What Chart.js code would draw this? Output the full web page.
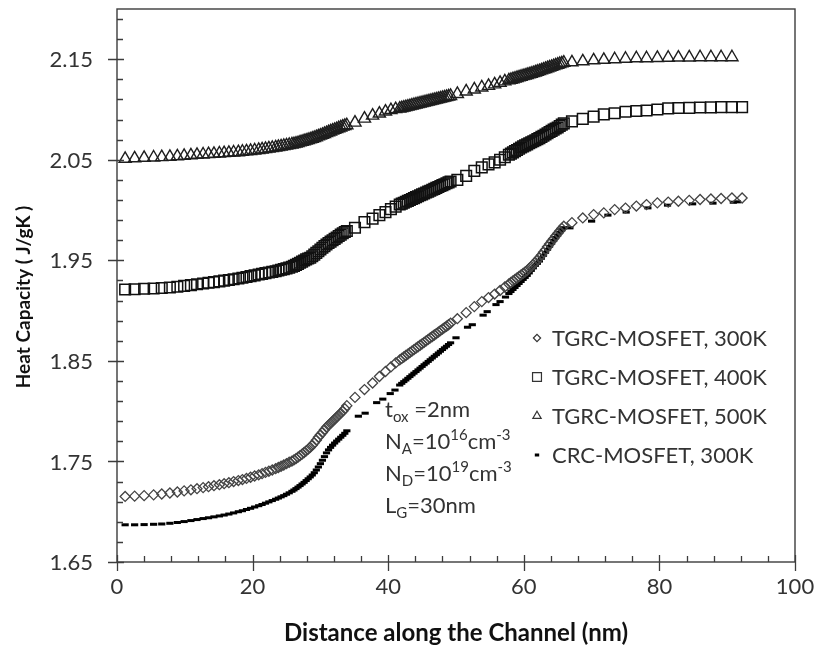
<!DOCTYPE html>
<html>
<head>
<meta charset="utf-8">
<script src="https://cdn.jsdelivr.net/npm/chart.js@4/dist/chart.umd.min.js"></script>
<style>
html,body{margin:0;padding:0;background:#ffffff;}
canvas{display:block;}
</style>
</head>
<body>
<canvas id="c" width="818" height="652"></canvas>
<script>
// ---------------- data ----------------
const xTitle = 'Distance along the Channel (nm)';
const yTitle = 'Heat Capacity ( J/gK )';
const xTickValues = [0, 20, 40, 60, 80, 100];
const yTickValues = [1.65, 1.75, 1.85, 1.95, 2.05, 2.15];
const xMinorStep = 4;
const yMinorStep = 0.02;
const seriesLabels = ['TGRC-MOSFET, 300K', 'TGRC-MOSFET, 400K', 'TGRC-MOSFET, 500K', 'CRC-MOSFET, 300K'];

// positions along the channel (nm) of the TGRC samples
const xTGRC = [
  1.2, 2.6, 4.0, 5.4, 6.6, 7.8, 8.9, 9.9, 10.9, 11.8,
  12.7, 13.5, 14.3, 15.1, 15.8, 16.5, 17.2, 17.9, 18.5, 19.1,
  19.7, 20.3, 20.9, 21.4, 21.9, 22.4, 22.9, 23.4, 23.8, 24.2,
  24.6, 25.0, 25.4, 25.8, 26.1, 26.4, 26.7, 27.0, 27.3, 27.6,
  27.9, 28.2, 28.5, 28.8, 29.1, 29.4, 29.7, 30.0, 30.3, 30.6,
  30.9, 31.2, 31.5, 31.8, 32.1, 32.4, 32.7, 33.0, 33.3, 33.6,
  33.9,
  35.1, 36.5, 37.7, 38.7, 39.6, 40.4, 41.1,
  41.7, 42.0, 42.3, 42.6, 42.9, 43.2, 43.5, 43.8, 44.1, 44.4,
  44.7, 45.0, 45.3, 45.6, 45.9, 46.2, 46.5, 46.8, 47.1, 47.4,
  47.7, 48.0, 48.3, 48.6, 48.9, 49.2,
  50.2, 51.5, 52.7, 53.8, 54.8, 55.7, 56.5, 57.2,
  57.8, 58.1, 58.4, 58.7, 59.0, 59.3, 59.6, 59.9, 60.2, 60.5,
  60.8, 61.1, 61.4, 61.7, 62.0, 62.3, 62.6, 62.9, 63.2, 63.5,
  63.8, 64.1, 64.4, 64.7, 65.0, 65.3, 65.6, 65.9,
  67.1, 68.7, 70.3, 71.8, 73.4, 75.0, 76.6, 78.1, 79.7, 81.3,
  82.8, 84.4, 86.0, 87.6, 89.1, 90.7, 92.2
];

const heatTGRC300K = [
  1.7152, 1.7155, 1.716, 1.7168, 1.7176, 1.7186, 1.7196, 1.7207, 1.7218, 1.7229,
  1.724, 1.7249, 1.7259, 1.7269, 1.7279, 1.7289, 1.73, 1.731, 1.732, 1.7331,
  1.7343, 1.7355, 1.7367, 1.7379, 1.7391, 1.7403, 1.7415, 1.7428, 1.744, 1.7452,
  1.7465, 1.7478, 1.7492, 1.7504, 1.7515, 1.7528, 1.7543, 1.7558, 1.7573, 1.7589,
  1.7606, 1.7623, 1.764, 1.7662, 1.7685, 1.7712, 1.774, 1.7765, 1.7788, 1.7815,
  1.784, 1.786, 1.788, 1.79, 1.792, 1.794, 1.796, 1.798, 1.8, 1.8025,
  1.8055,
  1.8137, 1.8215, 1.828, 1.8345, 1.8395, 1.844, 1.848,
  1.851, 1.8525, 1.8539, 1.8554, 1.8568, 1.8583, 1.8598, 1.8612, 1.8627, 1.8641,
  1.8656, 1.867, 1.8685, 1.87, 1.8714, 1.8729, 1.8743, 1.8758, 1.8772, 1.8787,
  1.8802, 1.8816, 1.8831, 1.8845, 1.886, 1.8875,
  1.892, 1.898, 1.904, 1.909, 1.913, 1.9165, 1.92, 1.9235,
  1.9265, 1.928, 1.9295, 1.931, 1.9325, 1.934, 1.9355, 1.937, 1.9385, 1.94,
  1.942, 1.944, 1.946, 1.948, 1.9505, 1.9526, 1.9552, 1.958, 1.9607, 1.9635,
  1.9662, 1.969, 1.9716, 1.9742, 1.9768, 1.9793, 1.9818, 1.984,
  1.9875, 1.9922, 1.9955, 1.9972, 2.0005, 2.002, 2.004, 2.0055, 2.0072, 2.008,
  2.0088, 2.0097, 2.0105, 2.011, 2.0115, 2.012, 2.012
];

const heatTGRC400K = [
  1.921, 1.9213, 1.9217, 1.922, 1.9225, 1.923, 1.9238, 1.9246, 1.9254, 1.9262,
  1.927, 1.9277, 1.9284, 1.9291, 1.9298, 1.9305, 1.9312, 1.932, 1.9327, 1.9335,
  1.9343, 1.9351, 1.9359, 1.9366, 1.9373, 1.938, 1.9386, 1.9392, 1.9399, 1.9406,
  1.9413, 1.942, 1.9428, 1.9436, 1.9445, 1.9455, 1.9465, 1.9476, 1.9487, 1.9498,
  1.951, 1.9518, 1.9526, 1.9541, 1.9557, 1.9574, 1.9591, 1.9608, 1.9625, 1.9642,
  1.9658, 1.9672, 1.9686, 1.97, 1.9714, 1.9728, 1.9742, 1.9756, 1.977, 1.9782,
  1.9792,
  1.9825, 1.988, 1.9915, 1.995, 1.998, 2.001, 2.0035,
  2.0055, 2.0064, 2.0073, 2.0083, 2.0092, 2.0101, 2.011, 2.0119, 2.0129, 2.0138,
  2.0147, 2.0156, 2.0165, 2.0175, 2.0184, 2.0193, 2.0202, 2.0211, 2.0221, 2.023,
  2.0239, 2.0248, 2.0257, 2.0267, 2.0276, 2.0285,
  2.03, 2.034, 2.039, 2.0425, 2.0455, 2.0475, 2.05, 2.0525,
  2.055, 2.0562, 2.0574, 2.0586, 2.0598, 2.061, 2.0622, 2.0634, 2.0644, 2.0654,
  2.0665, 2.0675, 2.0685, 2.0695, 2.0706, 2.0716, 2.0728, 2.074, 2.0752, 2.0764,
  2.0776, 2.0788, 2.08, 2.0811, 2.0822, 2.0837, 2.085, 2.0862,
  2.0882, 2.0907, 2.093, 2.0952, 2.0963, 2.0978, 2.0985, 2.099, 2.1, 2.1012,
  2.1015, 2.1017, 2.102, 2.1022, 2.1024, 2.1024, 2.1024
];

const heatTGRC500K = [
  2.051, 2.0515, 2.052, 2.0523, 2.0527, 2.053, 2.0535, 2.054, 2.0545, 2.055,
  2.0553, 2.0557, 2.056, 2.0563, 2.0567, 2.057, 2.0573, 2.0576, 2.058, 2.0584,
  2.0588, 2.0593, 2.0598, 2.0603, 2.0608, 2.0613, 2.0618, 2.0623, 2.0628, 2.0633,
  2.0638, 2.0643, 2.0648, 2.0653, 2.0657, 2.0662, 2.0667, 2.0673, 2.0679, 2.0685,
  2.0691, 2.0697, 2.0703, 2.071, 2.0717, 2.0725, 2.0733, 2.0741, 2.0749, 2.0757,
  2.0766, 2.0774, 2.0782, 2.079, 2.0798, 2.0806, 2.0814, 2.0822, 2.083, 2.0837,
  2.0844,
  2.087, 2.091, 2.094, 2.096, 2.098, 2.0995, 2.1005,
  2.101, 2.1015, 2.102, 2.1025, 2.103, 2.1035, 2.104, 2.1045, 2.105, 2.1055,
  2.106, 2.1065, 2.107, 2.1075, 2.108, 2.1085, 2.109, 2.1095, 2.11, 2.1105,
  2.111, 2.1115, 2.112, 2.1125, 2.113, 2.1135,
  2.1155, 2.118, 2.12, 2.122, 2.1235, 2.125, 2.1265, 2.128,
  2.129, 2.1296, 2.1302, 2.1308, 2.1314, 2.132, 2.1326, 2.1332, 2.1338, 2.1344,
  2.135, 2.1356, 2.1362, 2.1369, 2.1376, 2.1383, 2.139, 2.1397, 2.1404, 2.1411,
  2.1418, 2.1425, 2.1432, 2.1439, 2.1446, 2.1453, 2.146, 2.1466,
  2.147, 2.148, 2.149, 2.1495, 2.15, 2.1505, 2.151, 2.151, 2.1513, 2.1515,
  2.1517, 2.1518, 2.152, 2.152, 2.152, 2.152, null
];

// positions along the channel (nm) of the CRC samples
const xCRC = [
  1.2, 2.6, 4.0, 5.4, 6.6, 7.8, 8.9, 9.9, 10.9, 11.8,
  12.7, 13.5, 14.3, 15.1, 15.8, 16.5, 17.2, 17.9, 18.5, 19.1,
  19.7, 20.3, 20.9, 21.4, 21.9, 22.4, 22.9, 23.4, 23.8, 24.2,
  24.6, 25.0, 25.4, 25.8, 26.1, 26.4, 26.7, 27.0, 27.3, 27.6,
  27.9, 28.2, 28.5, 28.8, 29.1, 29.4, 29.7, 30.0, 30.3, 30.6,
  30.9, 31.2, 31.5, 31.8, 32.1, 32.4, 32.7, 33.0, 33.3, 33.6,
  33.9,
  35.6, 36.6, 38.3, 39.2, 40.3, 41.0,
  41.7, 42.0, 42.3, 42.6, 42.9, 43.2, 43.5, 43.8, 44.1, 44.4,
  44.7, 45.0, 45.3, 45.6, 45.9, 46.2, 46.5, 46.8, 47.1, 47.4,
  47.7, 48.0, 48.3, 48.6, 48.9, 49.2,
  50.0, 51.7, 52.4, 54.0, 54.6, 55.9, 56.5, 57.3,
  57.8, 58.1, 58.4, 58.7, 59.0, 59.3, 59.6, 59.9, 60.2, 60.5,
  60.8, 61.1, 61.4, 61.7, 62.0, 62.3, 62.6, 62.9, 63.2, 63.5,
  63.8, 64.1, 64.4, 64.7, 65.0, 65.3, 65.6, 65.9,
  66.8, 70.0, 72.4, 75.1, 78.3, 81.2, 84.9, 87.9, 90.9, 91.5
];

const heatCRC300K = [
  1.687, 1.687, 1.6872, 1.6875, 1.6878, 1.6885, 1.6893, 1.6902, 1.6912, 1.6922,
  1.6932, 1.694, 1.6949, 1.6958, 1.6967, 1.6977, 1.6988, 1.7, 1.701, 1.7022,
  1.7034, 1.7047, 1.706, 1.7072, 1.7085, 1.7098, 1.7111, 1.7124, 1.7136, 1.7148,
  1.716, 1.7174, 1.7188, 1.7203, 1.7216, 1.723, 1.7245, 1.726, 1.7276, 1.7292,
  1.731, 1.7328, 1.7346, 1.7365, 1.7388, 1.7415, 1.7445, 1.7478, 1.7512, 1.7548,
  1.7585, 1.7615, 1.764, 1.7662, 1.7683, 1.7703, 1.7722, 1.7741, 1.776, 1.778,
  1.7805,
  1.795, 1.798, 1.8085, 1.812, 1.8175, 1.821,
  1.826, 1.8277, 1.8294, 1.831, 1.8327, 1.8344, 1.8361, 1.8378, 1.8394, 1.8411,
  1.8428, 1.8445, 1.8462, 1.8478, 1.8495, 1.8512, 1.8529, 1.8546, 1.8562, 1.8579,
  1.8596, 1.8613, 1.863, 1.8646, 1.8663, 1.868,
  1.873, 1.8835, 1.886, 1.8955, 1.899, 1.906, 1.909, 1.9135,
  1.917, 1.919, 1.921, 1.923, 1.925, 1.927, 1.929, 1.931, 1.933, 1.935,
  1.9375, 1.94, 1.9425, 1.945, 1.947, 1.9493, 1.9521, 1.955, 1.958, 1.961,
  1.964, 1.967, 1.97, 1.9727, 1.9753, 1.978, 1.9805, 1.9825,
  1.9823, 1.989, 1.995, 1.998, 2.0022, 2.0049, 2.0062, 2.0069, 2.0078, 2.0082
];

// parameter box text: [text, 'n' normal | 'sub' | 'sup']
const paramLines = [
  [['t', 'n'], ['ox', 'sub'], [' =2nm', 'n']],
  [['N', 'n'], ['A', 'sub'], ['=10', 'n'], ['16', 'sup'], ['cm', 'n'], ['-3', 'sup']],
  [['N', 'n'], ['D', 'sub'], ['=10', 'n'], ['19', 'sup'], ['cm', 'n'], ['-3', 'sup']],
  [['L', 'n'], ['G', 'sub'], ['=30nm', 'n']]
];

// ---------------- chart ----------------
function toPoints(xs, ys) {
  const out = [];
  for (let i = 0; i < xs.length; i++) {
    if (ys[i] !== null && ys[i] !== undefined) out.push({ x: xs[i], y: ys[i] });
  }
  return out;
}

const FONT = 'Lato';
const TEXT = '#333333';
const AXIS = '#3c3c3c';

const styles = [
  { pointStyle: 'rectRot', radius: 5, borderColor: '#444444', borderWidth: 1.3, legendR: 3.6 },
  { pointStyle: 'rect', radius: 7.5, borderColor: '#111111', borderWidth: 1.5, legendR: 6.3 },
  { pointStyle: 'triangle', radius: 7, borderColor: '#1e1e1e', borderWidth: 1.4, legendR: 4.8 },
  { pointStyle: 'line', radius: 3.6, borderColor: '#000000', borderWidth: 3, legendR: 2.2 }
];
const seriesData = [
  toPoints(xTGRC, heatTGRC300K),
  toPoints(xTGRC, heatTGRC400K),
  toPoints(xTGRC, heatTGRC500K),
  toPoints(xCRC, heatCRC300K)
];

const datasets = seriesLabels.map((lab, i) => ({
  label: lab,
  data: seriesData[i],
  showLine: false,
  pointStyle: styles[i].pointStyle,
  pointRadius: styles[i].radius,
  pointHoverRadius: styles[i].radius,
  pointBorderColor: styles[i].borderColor,
  pointBorderWidth: styles[i].borderWidth,
  pointBackgroundColor: 'rgba(0,0,0,0)',
  borderColor: styles[i].borderColor,
  backgroundColor: 'rgba(0,0,0,0)'
}));

function drawMarker(ctx, style, x, y, r, bw, color) {
  ctx.save();
  ctx.strokeStyle = color;
  ctx.lineWidth = bw;
  ctx.beginPath();
  if (style === 'rectRot') {
    ctx.moveTo(x - r, y); ctx.lineTo(x, y - r); ctx.lineTo(x + r, y); ctx.lineTo(x, y + r); ctx.closePath();
  } else if (style === 'rect') {
    const s = r * Math.SQRT1_2;
    ctx.rect(x - s, y - s, 2 * s, 2 * s);
  } else if (style === 'triangle') {
    ctx.moveTo(x, y - r);
    ctx.lineTo(x + r * Math.sin(Math.PI / 3), y + r * 0.5);
    ctx.lineTo(x - r * Math.sin(Math.PI / 3), y + r * 0.5);
    ctx.closePath();
  } else if (style === 'line') {
    ctx.moveTo(x - r, y); ctx.lineTo(x + r, y);
  }
  ctx.stroke();
  ctx.restore();
}

const decorPlugin = {
  id: 'decor',
  afterDraw(chart) {
    const ctx = chart.ctx;
    const a = chart.chartArea;
    const xs = chart.scales.x;
    const ys = chart.scales.y;
    ctx.save();
    // frame
    ctx.strokeStyle = AXIS;
    ctx.lineWidth = 1.4;
    ctx.strokeRect(a.left, a.top, a.right - a.left, a.bottom - a.top);
    // ticks
    ctx.lineWidth = 1.3;
    ctx.beginPath();
    const nx = Math.round((xs.max - xs.min) / xMinorStep);
    for (let k = 0; k <= nx; k++) {
      const v = xs.min + k * xMinorStep;
      const px = Math.round(xs.getPixelForValue(v)) + 0.5;
      const major = xTickValues.some(t => Math.abs(t - v) < 1e-6);
      if (major) { ctx.moveTo(px, a.bottom + 9); ctx.lineTo(px, a.bottom - 7); }
      else { ctx.moveTo(px, a.bottom); ctx.lineTo(px, a.bottom - 6); }
    }
    const ny = Math.round((ys.max - ys.min) / yMinorStep);
    for (let k = 0; k < ny; k++) {
      const v = ys.min + k * yMinorStep;
      const py = Math.round(ys.getPixelForValue(v)) + 0.5;
      const major = yTickValues.some(t => Math.abs(t - v) < 1e-6);
      if (major) { ctx.moveTo(a.left - 9, py); ctx.lineTo(a.left + 7, py); }
      else { ctx.moveTo(a.left, py); ctx.lineTo(a.left + 6, py); }
    }
    ctx.stroke();

    // tick labels
    ctx.fillStyle = TEXT;
    ctx.font = '22px ' + FONT;
    ctx.textBaseline = 'middle';
    ctx.textAlign = 'right';
    yTickValues.forEach(v => ctx.fillText(v.toFixed(2), a.left - 24, ys.getPixelForValue(v) + 1));
    ctx.textAlign = 'center';
    xTickValues.forEach(v => ctx.fillText(String(v), xs.getPixelForValue(v), a.bottom + 25));

    // axis titles
    ctx.fillStyle = '#111111';
    ctx.font = 'bold 24px ' + FONT;
    ctx.textAlign = 'center';
    ctx.textBaseline = 'middle';
    ctx.fillText(xTitle, 456, 633);
    ctx.save();
    ctx.translate(24, 297);
    ctx.rotate(-Math.PI / 2);
    ctx.font = 'bold 19px ' + FONT;
    ctx.fillText(yTitle, 0, 0);
    ctx.restore();

    // legend
    const legX = 537, legTextX = 552, legY0 = 338, legDy = 39;
    ctx.font = '22px ' + FONT;
    ctx.fillStyle = TEXT;
    ctx.textAlign = 'left';
    ctx.textBaseline = 'middle';
    seriesLabels.forEach((lab, i) => {
      const y = legY0 + i * legDy;
      const st = styles[i];
      drawMarker(ctx, st.pointStyle, legX, y, st.legendR, st.pointStyle === 'line' ? 3 : 1.2, st.pointStyle === 'line' ? '#000' : '#333');
      ctx.fillText(lab, legTextX, y + 1);
    });

    // parameter text
    const px0 = 385, pBase0 = 417, pDy = 32;
    ctx.textBaseline = 'alphabetic';
    paramLines.forEach((parts, i) => {
      let x = px0;
      const base = pBase0 + i * pDy;
      parts.forEach(([txt, kind]) => {
        let dy = 0;
        if (kind === 'n') ctx.font = '22px ' + FONT;
        else { ctx.font = '15px ' + FONT; dy = kind === 'sub' ? 5 : -9; }
        ctx.fillText(txt, x, base + dy);
        x += ctx.measureText(txt).width;
      });
    });
    ctx.restore();
  }
};

new Chart(document.getElementById('c'), {
  type: 'scatter',
  data: { datasets },
  options: {
    responsive: false,
    devicePixelRatio: 1,
    animation: false,
    events: [],
    layout: { padding: { left: 0, right: 23, top: 7, bottom: 0 } },
    plugins: { legend: { display: false }, tooltip: { enabled: false } },
    scales: {
      x: {
        type: 'linear',
        min: 0, max: 100,
        afterFit: s => { s.height = 90; },
        afterBuildTicks: s => { s.ticks = xTickValues.map(v => ({ value: v })); },
        grid: { display: false, drawTicks: false },
        border: { display: false },
        ticks: { display: false }
      },
      y: {
        type: 'linear',
        min: 1.65, max: 2.2,
        afterFit: s => { s.width = 117; },
        afterBuildTicks: s => { s.ticks = yTickValues.map(v => ({ value: v })); },
        grid: { display: false, drawTicks: false },
        border: { display: false },
        ticks: { display: false }
      }
    }
  },
  plugins: [decorPlugin]
});
</script>
</body>
</html>
